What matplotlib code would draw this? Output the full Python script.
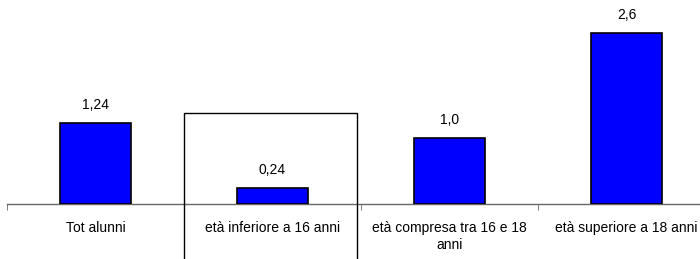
import numpy as np
import matplotlib
matplotlib.use("Agg")
import matplotlib.pyplot as plt
from matplotlib.patches import Rectangle

categories = ["Tot alunni", "età inferiore a 16 anni",
              "età compresa tra 16 e 18\nanni", "età superiore a 18 anni"]
values = [1.24, 0.24, 1.0, 2.6]
value_labels = ["1,24", "0,24", "1,0", "2,6"]
highlight = 1  # category framed by a box

plt.rcParams['font.family'] = ['Liberation Sans', 'DejaVu Sans']

fig = plt.figure(figsize=(7, 2.59), dpi=100)
# axes runs a bit past the right edge, like the original
ax = fig.add_axes([7 / 700, 55 / 259, 708 / 700, 204 / 259])
x = np.arange(len(categories))
ax.bar(x, values, width=0.4, color="#0000ff", edgecolor="black", linewidth=1.2, zorder=3)

for xi, v, lab in zip(x, values, value_labels):
    ax.annotate(lab, (xi, v), xytext=(0, 8), textcoords="offset points",
                ha="center", va="bottom", fontsize=10)

ax.set_xlim(-0.5, len(categories) - 0.5)
ax.set_ylim(0, 3.11)

for s in ["left", "right", "top"]:
    ax.spines[s].set_visible(False)
ax.spines["bottom"].set_color("#666666")
ax.spines["bottom"].set_linewidth(1.0)
ax.set_yticks([])

ax.set_xticks(np.arange(len(categories) + 1) - 0.5, minor=True)
ax.tick_params(axis="x", which="minor", length=4, direction="out", color="#666666")
ax.set_xticks(x)
ax.set_xticklabels([])
ax.tick_params(axis="x", which="major", length=0)

# category labels, centred line by line
for xi, cat in zip(x, categories):
    ax.annotate(cat, (xi, 0), xytext=(0, -12), textcoords="offset points",
                ha="center", va="top", ma="center", fontsize=10,
                linespacing=1.3, annotation_clip=False)

box = Rectangle((highlight - 0.5, -1.0), 0.98, 2.39, fill=False,
                edgecolor="black", linewidth=1.0, clip_on=False, zorder=4)
ax.add_patch(box)

fig.savefig("out.png", dpi=100)
